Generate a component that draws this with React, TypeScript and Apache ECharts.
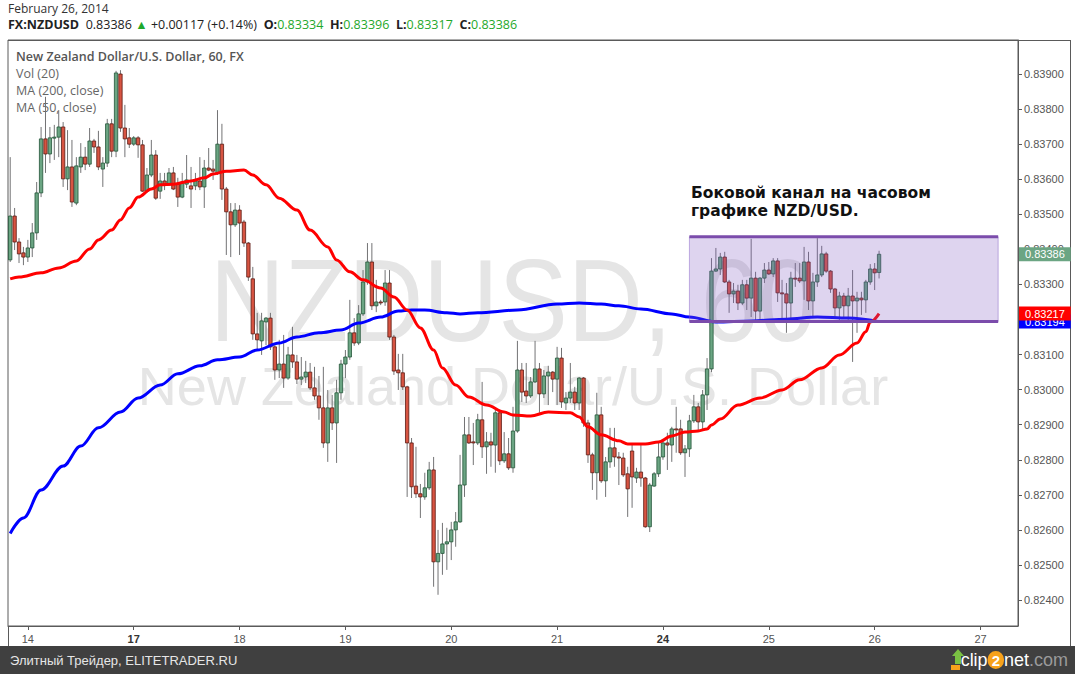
import React, { useEffect, useRef } from 'react';
import * as echarts from 'echarts';

// ---------- data ----------
const slotCount = 229; // hourly slots across the x axis (incl. empty future)
const dayTickIndex = [4, 28, 52, 76, 100, 124, 148, 172, 196, 220];
const dayTickLabel = ['14', '17', '18', '19', '20', '21', '24', '25', '26', '27'];
const boldDays = ['17', '24'];

const opens = [
  0.83370, 0.83495, 0.83421, 0.83390, 0.83378, 0.83404, 0.83447, 0.83561, 0.83715, 0.83672,
  0.83718, 0.83720, 0.83749, 0.83601, 0.83635, 0.83532, 0.83635, 0.83663, 0.83643, 0.83709,
  0.83692, 0.83629, 0.83646, 0.83758, 0.83680, 0.83900, 0.83746, 0.83718, 0.83700, 0.83718,
  0.83698, 0.83566, 0.83612, 0.83669, 0.83566, 0.83595, 0.83586, 0.83618, 0.83586, 0.83549,
  0.83586, 0.83581, 0.83581, 0.83595, 0.83578, 0.83632, 0.83629, 0.83618, 0.83700, 0.83572,
  0.83507, 0.83470, 0.83512, 0.83478, 0.83418, 0.83316, 0.83159, 0.83139, 0.83193, 0.83204,
  0.83122, 0.83056, 0.83073, 0.83033, 0.83099, 0.83079, 0.83030, 0.83036, 0.83050, 0.83005,
  0.82982, 0.82948, 0.82848, 0.82948, 0.82905, 0.82991, 0.83073, 0.83093, 0.83162, 0.83133,
  0.83216, 0.83307, 0.83364, 0.83239, 0.83250, 0.83250, 0.83304, 0.83150, 0.83056, 0.83048,
  0.83008, 0.82848, 0.82725, 0.82703, 0.82694, 0.82720, 0.82771, 0.82509, 0.82533, 0.82560,
  0.82566, 0.82600, 0.82623, 0.82728, 0.82871, 0.82851, 0.82848, 0.82914, 0.82837, 0.82851,
  0.82842, 0.82934, 0.82797, 0.82817, 0.82777, 0.82882, 0.83056, 0.82996, 0.82982, 0.83022,
  0.83059, 0.82988, 0.83039, 0.83050, 0.83030, 0.83090, 0.82962, 0.82976, 0.82993, 0.82962,
  0.83033, 0.82905, 0.82814, 0.82763, 0.82928, 0.82740, 0.82794, 0.82834, 0.82808, 0.82805,
  0.82760, 0.82825, 0.82748, 0.82765, 0.82748, 0.82609, 0.82725, 0.82760, 0.82808, 0.82848,
  0.82842, 0.82888, 0.82888, 0.82820, 0.82831, 0.82911, 0.82951, 0.82908, 0.82985, 0.83059,
  0.83338, 0.83344, 0.83378, 0.83307, 0.83273, 0.83281, 0.83247, 0.83299, 0.83261, 0.83318,
  0.83224, 0.83318, 0.83341, 0.83330, 0.83367, 0.83276, 0.83273, 0.83247, 0.83318, 0.83318,
  0.83310, 0.83364, 0.83253, 0.83307, 0.83327, 0.83387, 0.83338, 0.83287, 0.83233, 0.83267,
  0.83239, 0.83267, 0.83253, 0.83261, 0.83256, 0.83307, 0.83344, 0.83334,
];
const closes = [
  0.83495, 0.83421, 0.83387, 0.83378, 0.83404, 0.83447, 0.83561, 0.83715, 0.83672, 0.83718,
  0.83720, 0.83749, 0.83601, 0.83635, 0.83535, 0.83638, 0.83663, 0.83643, 0.83709, 0.83692,
  0.83635, 0.83646, 0.83758, 0.83680, 0.83903, 0.83746, 0.83715, 0.83700, 0.83718, 0.83698,
  0.83566, 0.83612, 0.83669, 0.83546, 0.83595, 0.83586, 0.83618, 0.83572, 0.83549, 0.83592,
  0.83598, 0.83572, 0.83595, 0.83578, 0.83632, 0.83626, 0.83623, 0.83700, 0.83572, 0.83507,
  0.83470, 0.83512, 0.83475, 0.83418, 0.83321, 0.83159, 0.83142, 0.83196, 0.83204, 0.83122,
  0.83056, 0.83073, 0.83033, 0.83099, 0.83079, 0.83030, 0.83036, 0.83050, 0.83005, 0.82982,
  0.82948, 0.82848, 0.82948, 0.82905, 0.82991, 0.83073, 0.83093, 0.83162, 0.83133, 0.83216,
  0.83307, 0.83364, 0.83239, 0.83250, 0.83249, 0.83304, 0.83150, 0.83053, 0.83048, 0.83008,
  0.82848, 0.82723, 0.82703, 0.82694, 0.82720, 0.82771, 0.82509, 0.82533, 0.82560, 0.82566,
  0.82600, 0.82623, 0.82728, 0.82871, 0.82848, 0.82848, 0.82914, 0.82837, 0.82851, 0.82842,
  0.82934, 0.82797, 0.82817, 0.82777, 0.82882, 0.83056, 0.82993, 0.82982, 0.83022, 0.83059,
  0.82988, 0.83039, 0.83050, 0.83030, 0.83090, 0.82965, 0.82976, 0.82993, 0.82962, 0.83033,
  0.82905, 0.82814, 0.82763, 0.82928, 0.82740, 0.82794, 0.82834, 0.82808, 0.82805, 0.82757,
  0.82717, 0.82751, 0.82765, 0.82748, 0.82609, 0.82728, 0.82760, 0.82808, 0.82848, 0.82842,
  0.82888, 0.82885, 0.82820, 0.82831, 0.82911, 0.82951, 0.82908, 0.82985, 0.83059, 0.83338,
  0.83344, 0.83378, 0.83307, 0.83273, 0.83281, 0.83247, 0.83299, 0.83261, 0.83318, 0.83224,
  0.83318, 0.83341, 0.83330, 0.83367, 0.83276, 0.83273, 0.83247, 0.83318, 0.83316, 0.83310,
  0.83364, 0.83253, 0.83307, 0.83327, 0.83387, 0.83338, 0.83287, 0.83233, 0.83267, 0.83239,
  0.83267, 0.83253, 0.83261, 0.83256, 0.83307, 0.83344, 0.83333, 0.83386,
];
const lows = [
  0.83364, 0.83398, 0.83361, 0.83355, 0.83364, 0.83378, 0.83427, 0.83549, 0.83618, 0.83646,
  0.83655, 0.83663, 0.83578, 0.83569, 0.83521, 0.83526, 0.83618, 0.83626, 0.83635, 0.83675,
  0.83626, 0.83578, 0.83635, 0.83663, 0.83663, 0.83735, 0.83663, 0.83689, 0.83695, 0.83661,
  0.83564, 0.83561, 0.83606, 0.83541, 0.83544, 0.83569, 0.83581, 0.83569, 0.83521, 0.83546,
  0.83575, 0.83518, 0.83569, 0.83569, 0.83518, 0.83623, 0.83598, 0.83612, 0.83541, 0.83384,
  0.83378, 0.83464, 0.83384, 0.83407, 0.83310, 0.83142, 0.83113, 0.83099, 0.83127, 0.83113,
  0.83028, 0.83033, 0.83005, 0.83028, 0.83062, 0.83016, 0.83013, 0.83019, 0.82999, 0.82971,
  0.82914, 0.82834, 0.82794, 0.82885, 0.82791, 0.82971, 0.83033, 0.83085, 0.83125, 0.83127,
  0.83210, 0.83299, 0.83227, 0.83221, 0.83241, 0.83239, 0.83142, 0.83042, 0.82999, 0.82999,
  0.82694, 0.82691, 0.82691, 0.82634, 0.82686, 0.82714, 0.82438, 0.82415, 0.82472, 0.82486,
  0.82514, 0.82552, 0.82620, 0.82694, 0.82845, 0.82785, 0.82842, 0.82805, 0.82760, 0.82780,
  0.82763, 0.82785, 0.82791, 0.82771, 0.82763, 0.82877, 0.82965, 0.82962, 0.82976, 0.83019,
  0.82934, 0.82976, 0.82956, 0.82993, 0.82956, 0.82948, 0.82942, 0.82962, 0.82942, 0.82942,
  0.82894, 0.82791, 0.82714, 0.82686, 0.82734, 0.82694, 0.82777, 0.82780, 0.82728, 0.82751,
  0.82637, 0.82663, 0.82734, 0.82723, 0.82606, 0.82594, 0.82723, 0.82751, 0.82800, 0.82771,
  0.82794, 0.82820, 0.82814, 0.82751, 0.82808, 0.82905, 0.82885, 0.82885, 0.82942, 0.83050,
  0.83336, 0.83327, 0.83304, 0.83219, 0.83247, 0.83227, 0.83241, 0.83227, 0.83207, 0.83199,
  0.83201, 0.83304, 0.83327, 0.83321, 0.83250, 0.83199, 0.83162, 0.83199, 0.83293, 0.83304,
  0.83256, 0.83227, 0.83207, 0.83293, 0.83321, 0.83333, 0.83276, 0.83204, 0.83199, 0.83204,
  0.83199, 0.83079, 0.83162, 0.83213, 0.83219, 0.83299, 0.83284, 0.83317,
];
const highs = [
  0.83663, 0.83518, 0.83432, 0.83407, 0.83427, 0.83475, 0.83592, 0.83749, 0.83835, 0.83749,
  0.83755, 0.83797, 0.83763, 0.83740, 0.83712, 0.83663, 0.83703, 0.83692, 0.83746, 0.83715,
  0.83738, 0.83663, 0.83772, 0.83772, 0.83909, 0.83911, 0.83812, 0.83746, 0.83723, 0.83723,
  0.83712, 0.83632, 0.83712, 0.83683, 0.83618, 0.83618, 0.83632, 0.83635, 0.83604, 0.83618,
  0.83669, 0.83635, 0.83618, 0.83663, 0.83655, 0.83689, 0.83655, 0.83797, 0.83758, 0.83578,
  0.83532, 0.83532, 0.83526, 0.83484, 0.83421, 0.83350, 0.83219, 0.83219, 0.83207, 0.83219,
  0.83133, 0.83142, 0.83156, 0.83122, 0.83179, 0.83099, 0.83093, 0.83082, 0.83076, 0.83065,
  0.83039, 0.83065, 0.82999, 0.82985, 0.83028, 0.83085, 0.83113, 0.83256, 0.83204, 0.83241,
  0.83341, 0.83418, 0.83418, 0.83313, 0.83256, 0.83341, 0.83341, 0.83156, 0.83102, 0.83102,
  0.83011, 0.82862, 0.82837, 0.82731, 0.82763, 0.82794, 0.82808, 0.82600, 0.82620, 0.82606,
  0.82623, 0.82651, 0.82814, 0.82922, 0.82922, 0.82905, 0.82931, 0.83022, 0.82879, 0.82877,
  0.82942, 0.82942, 0.82879, 0.82862, 0.82951, 0.83139, 0.83076, 0.83076, 0.83036, 0.83139,
  0.83076, 0.83056, 0.83068, 0.83053, 0.83122, 0.83119, 0.82993, 0.83076, 0.83008, 0.83036,
  0.83036, 0.82914, 0.82820, 0.82991, 0.82951, 0.82808, 0.82891, 0.82891, 0.82822, 0.82820,
  0.82780, 0.82848, 0.82777, 0.82842, 0.82751, 0.82734, 0.82765, 0.82848, 0.82851, 0.82877,
  0.82894, 0.82951, 0.82914, 0.82842, 0.82928, 0.82985, 0.82962, 0.82999, 0.83090, 0.83375,
  0.83404, 0.83390, 0.83393, 0.83313, 0.83304, 0.83299, 0.83313, 0.83313, 0.83430, 0.83336,
  0.83321, 0.83361, 0.83364, 0.83375, 0.83375, 0.83313, 0.83304, 0.83336, 0.83361, 0.83361,
  0.83407, 0.83393, 0.83333, 0.83432, 0.83410, 0.83393, 0.83341, 0.83290, 0.83279, 0.83276,
  0.83290, 0.83341, 0.83279, 0.83279, 0.83313, 0.83358, 0.83361, 0.83396,
];

// MA (50, close) — red at candle indices
const ma50Index = [0, 2, 7, 11, 15, 18, 20, 23, 25, 27, 29, 32, 34, 37, 41, 44, 46, 49, 53, 55,
  58, 61, 65, 68, 72, 74, 77, 80, 84, 87, 90, 93, 96, 98, 101, 104, 108, 112, 114, 118,
  122, 127, 129, 131, 134, 138, 140, 144, 147, 150, 153, 156, 158, 159, 161, 165, 170, 175, 179, 184,
  188, 192, 194, 195, 197];
const ma50Value = [0.83316, 0.83321, 0.83333, 0.83347, 0.83367, 0.83401, 0.83427, 0.83455, 0.83484, 0.83518,
  0.83549, 0.83572, 0.83584, 0.83586, 0.83595, 0.83604, 0.83615, 0.83623, 0.83626, 0.83612,
  0.83584, 0.83546, 0.83512, 0.83455, 0.83407, 0.83370, 0.83336, 0.83313, 0.83290, 0.83264,
  0.83227, 0.83176, 0.83113, 0.83062, 0.83013, 0.82979, 0.82956, 0.82936, 0.82928, 0.82925,
  0.82936, 0.82934, 0.82922, 0.82894, 0.82871, 0.82854, 0.82845, 0.82845, 0.82851, 0.82868,
  0.82879, 0.82882, 0.82888, 0.82899, 0.82916, 0.82956, 0.82976, 0.82999, 0.83028, 0.83062,
  0.83099, 0.83133, 0.83165, 0.83193, 0.83217];

// MA (200, close) — blue
const ma200Index = [0, 3, 7, 12, 16, 20, 25, 29, 34, 38, 43, 47, 52, 56, 61, 65, 70, 75, 79, 84,
  88, 91, 94, 99, 102, 106, 115, 124, 129, 134, 138, 143, 150, 154, 160, 168, 176, 183, 190, 197];
const ma200Value = [0.82590, 0.82634, 0.82714, 0.82782, 0.82839, 0.82891, 0.82936, 0.82976, 0.83013, 0.83045,
  0.83068, 0.83085, 0.83093, 0.83113, 0.83133, 0.83150, 0.83162, 0.83170, 0.83190, 0.83207,
  0.83224, 0.83227, 0.83227, 0.83219, 0.83216, 0.83219, 0.83227, 0.83244, 0.83247, 0.83244,
  0.83239, 0.83230, 0.83216, 0.83207, 0.83193, 0.83196, 0.83201, 0.83207, 0.83204, 0.83194];

// sideways channel drawn on the chart
const channelStartIndex = 154;
const channelEndIndex = 224;
const channelTop = 0.83436;
const channelBottom = 0.83194;

const yMin = 0.82326;
const yMax = 0.83997;

const FONT_UI = "'Open Sans', 'Noto Sans', sans-serif";
const FONT_AXIS = "'Liberation Sans', Arial, sans-serif";

export default function App() {
  const ref = useRef<HTMLDivElement>(null);

  useEffect(() => {
    if (!ref.current) return;
    const chart = echarts.init(ref.current, undefined, { renderer: 'svg' });

    const categories = Array.from({ length: slotCount }, (_, i) => String(i));
    const candleData = opens.map((o, i) => [i, o, closes[i], lows[i], highs[i]]);
    const ma50Data = ma50Index.map((x, i) => [x, ma50Value[i]]);
    const ma200Data = ma200Index.map((x, i) => [x, ma200Value[i]]);
    const lastClose = closes[closes.length - 1];
    const lastMa50 = ma50Value[ma50Value.length - 1];
    const lastMa200 = ma200Value[ma200Value.length - 1];
    const labelOf: Record<number, string> = {};
    dayTickIndex.forEach((idx, k) => (labelOf[idx] = dayTickLabel[k]));

    const priceTag = (bg: string) => ({
      silent: true,
      symbol: 'none',
      precision: 5,
      lineStyle: { color: 'rgba(0,0,0,0)', width: 1, type: 'solid' },
      label: {
        show: true,
        position: 'end',
        distance: 1,
        formatter: (p: any) => Number(p.value).toFixed(5),
        backgroundColor: bg,
        color: '#ffffff',
        fontFamily: FONT_AXIS,
        fontSize: 11,
        padding: [2, 6, 1, 6],
      },
      emphasis: { disabled: true },
    });

    const option: any = {
      animation: false,
      backgroundColor: '#ffffff',
      grid: {
        left: 8,
        top: 40,
        width: 1010,
        height: 586,
        show: true,
        borderColor: '#5a5a5a',
        borderWidth: 1,
        backgroundColor: 'transparent',
      },
      xAxis: {
        type: 'category',
        data: categories,
        boundaryGap: true,
        axisLine: { show: true, lineStyle: { color: '#5a5a5a' } },
        axisTick: {
          show: true,
          alignWithLabel: true,
          length: 4,
          interval: (idx: number) => labelOf[idx] !== undefined,
          lineStyle: { color: '#5a5a5a' },
        },
        axisLabel: {
          interval: (idx: number) => labelOf[idx] !== undefined,
          formatter: (_v: string, idx: number) => {
            const t = labelOf[idx];
            if (t === undefined) return '';
            return boldDays.includes(t) ? `{b|${t}}` : `{n|${t}}`;
          },
          margin: 7,
          rich: {
            n: { color: '#555555', fontSize: 11, fontFamily: FONT_AXIS },
            b: { color: '#333333', fontSize: 11, fontFamily: FONT_AXIS, fontWeight: 'bold' },
          },
        },
        splitLine: { show: false },
      },
      yAxis: {
        type: 'value',
        position: 'right',
        min: yMin,
        max: yMax,
        splitNumber: 16,
        axisLine: { show: true, lineStyle: { color: '#5a5a5a' } },
        axisTick: { show: true, length: 4, lineStyle: { color: '#5a5a5a' } },
        axisLabel: {
          showMinLabel: false,
          showMaxLabel: false,
          margin: 6,
          color: '#555555',
          fontSize: 11,
          fontFamily: FONT_AXIS,
          formatter: (v: number) => v.toFixed(5),
        },
        splitLine: { show: false },
      },
      series: [
        {
          type: 'custom',
          name: 'NZDUSD',
          z: 2,
          clip: false,
          data: candleData,
          encode: { x: 0, y: [1, 2, 3, 4] },
          renderItem: (_params: any, api: any) => {
            const i = api.value(0);
            const o = api.value(1);
            const c = api.value(2);
            const l = api.value(3);
            const h = api.value(4);
            const pO = api.coord([i, o]);
            const pC = api.coord([i, c]);
            const pL = api.coord([i, l]);
            const pH = api.coord([i, h]);
            const x = pO[0];
            const up = c >= o;
            const bw = api.size([1, 0])[0] * 0.76;
            const top = Math.min(pO[1], pC[1]);
            const hgt = Math.max(Math.abs(pO[1] - pC[1]), 1);
            return {
              type: 'group',
              children: [
                {
                  type: 'line',
                  shape: { x1: x, y1: pH[1], x2: x, y2: pL[1] },
                  style: { stroke: '#737375', lineWidth: 1 },
                },
                {
                  type: 'rect',
                  shape: { x: x - bw / 2, y: top, width: bw, height: hgt },
                  style: {
                    fill: up ? '#6ba583' : '#d75442',
                    stroke: up ? '#225437' : '#5b1a13',
                    lineWidth: 0.8,
                  },
                },
              ],
            };
          },
          markLine: { ...priceTag('#6ba583'), data: [{ yAxis: lastClose }] },
        },
        {
          type: 'line',
          name: 'MA (200, close)',
          z: 3,
          clip: false,
          data: ma200Data,
          smooth: 0.35,
          smoothMonotone: 'x',
          showSymbol: false,
          lineStyle: { color: '#0000ff', width: 3 },
          markLine: { ...priceTag('#0000ff'), data: [{ yAxis: lastMa200 }] },
        },
        {
          type: 'line',
          name: 'MA (50, close)',
          z: 4,
          clip: false,
          data: ma50Data,
          smooth: 0.35,
          smoothMonotone: 'x',
          showSymbol: false,
          lineStyle: { color: '#ff0000', width: 3 },
          markLine: { ...priceTag('#ff0000'), data: [{ yAxis: lastMa50 }] },
        },
        {
          type: 'custom',
          name: 'channel',
          z: 6,
          data: [[channelStartIndex, channelTop, channelEndIndex, channelBottom]],
          renderItem: (_params: any, api: any) => {
            const p1 = api.coord([api.value(0), api.value(1)]);
            const p2 = api.coord([api.value(2), api.value(3)]);
            return {
              type: 'group',
              children: [
                {
                  type: 'rect',
                  shape: { x: p1[0], y: p1[1], width: p2[0] - p1[0], height: p2[1] - p1[1] },
                  style: { fill: 'rgba(126, 87, 194, 0.26)', stroke: 'rgba(126, 87, 194, 0.45)', lineWidth: 1 },
                },
                {
                  type: 'line',
                  shape: { x1: p1[0], y1: p1[1], x2: p2[0], y2: p1[1] },
                  style: { stroke: '#7b4cab', lineWidth: 3 },
                },
                {
                  type: 'line',
                  shape: { x1: p1[0], y1: p2[1], x2: p2[0], y2: p2[1] },
                  style: { stroke: '#7b4cab', lineWidth: 3 },
                },
              ],
            };
          },
        },
      ],
      graphic: [
        // watermark
        {
          type: 'text',
          x: 513,
          y: 300,
          scaleY: 1.12,
          silent: true,
          style: {
            text: 'NZDUSD, 60',
            fill: '#e5e5e5',
            fontSize: 104,
            fontFamily: FONT_AXIS,
            align: 'center',
            verticalAlign: 'middle',
          },
        },
        {
          type: 'text',
          x: 513,
          y: 386,
          silent: true,
          style: {
            text: 'New Zealand Dollar/U.S. Dollar',
            fill: '#e5e5e5',
            fontSize: 54,
            fontFamily: FONT_AXIS,
            align: 'center',
            verticalAlign: 'middle',
          },
        },
        // header
        {
          type: 'text',
          x: 8,
          y: 8,
          style: {
            text: 'February 26, 2014',
            fill: '#333333',
            fontSize: 12,
            fontFamily: FONT_UI,
            verticalAlign: 'middle',
          },
        },
        {
          type: 'text',
          x: 8,
          y: 24,
          style: {
            text:
              '{b|FX:NZDUSD}  {n|0.83386} {g|▲} {n|+0.00117 (+0.14%)}  {b|O:}{g|0.83334}  {b|H:}{g|0.83396}  {b|L:}{g|0.83317}  {b|C:}{g|0.83386}',
            verticalAlign: 'middle',
            rich: {
              b: { fill: '#222222', fontSize: 12.5, fontWeight: 'bold', fontFamily: FONT_UI },
              n: { fill: '#222222', fontSize: 12.5, fontFamily: FONT_UI },
              g: { fill: '#1fa82b', fontSize: 12.5, fontFamily: FONT_UI },
            },
          },
        },
        {
          type: 'line',
          shape: { x1: 8, y1: 40.5, x2: 1071, y2: 40.5 },
          style: { stroke: '#5a5a5a', lineWidth: 1 },
        },
        {
          type: 'line',
          shape: { x1: 8.5, y1: 626, x2: 8.5, y2: 646 },
          style: { stroke: '#5a5a5a', lineWidth: 1 },
        },
        {
          type: 'line',
          shape: { x1: 1070.5, y1: 40, x2: 1070.5, y2: 646 },
          style: { stroke: '#5a5a5a', lineWidth: 1 },
        },
        // legend
        {
          type: 'text',
          x: 16,
          y: 56,
          style: {
            text: 'New Zealand Dollar/U.S. Dollar, 60, FX',
            fill: '#555555',
            fontSize: 12.5,
            fontWeight: 600,
            fontFamily: FONT_UI,
            verticalAlign: 'middle',
          },
        },
        {
          type: 'text',
          x: 16,
          y: 73,
          style: { text: 'Vol (20)', fill: '#666666', fontSize: 12.5, fontFamily: FONT_UI, verticalAlign: 'middle' },
        },
        {
          type: 'text',
          x: 16,
          y: 90,
          style: { text: 'MA (200, close)', fill: '#666666', fontSize: 12.5, fontFamily: FONT_UI, verticalAlign: 'middle' },
        },
        {
          type: 'text',
          x: 16,
          y: 107,
          style: { text: 'MA (50, close)', fill: '#666666', fontSize: 12.5, fontFamily: FONT_UI, verticalAlign: 'middle' },
        },
        // annotation
        {
          type: 'text',
          x: 691,
          y: 184,
          z: 10,
          style: {
            text: 'Боковой канал на часовом\nграфике NZD/USD.',
            fill: '#111111',
            fontSize: 15.5,
            fontWeight: 'bold',
            fontFamily: "'DejaVu Sans', Verdana, sans-serif",
            lineHeight: 18,
            verticalAlign: 'top',
          },
        },
        // bottom bar
        {
          type: 'rect',
          shape: { x: 0, y: 646, width: 1075, height: 28 },
          style: { fill: '#404040' },
        },
        {
          type: 'text',
          x: 10,
          y: 660,
          style: {
            text: 'Элитный Трейдер, ELITETRADER.RU',
            fill: '#e6e6e6',
            fontSize: 13,
            fontFamily: "'Liberation Sans Narrow', 'Liberation Sans', sans-serif",
            verticalAlign: 'middle',
          },
        },
        {
          type: 'polygon',
          shape: { points: [[958, 649], [964, 656], [961, 656], [961, 664], [955, 664], [955, 656], [952, 656]] },
          style: { fill: '#7ac143' },
        },
        {
          type: 'rect',
          shape: { x: 951, y: 665, width: 9, height: 5 },
          style: { fill: '#f7a21b' },
        },
        {
          type: 'text',
          x: 1068,
          y: 660,
          style: {
            text: '{w|clip}{o|2}{w|net}{c|.com}',
            align: 'right',
            verticalAlign: 'middle',
            rich: {
              w: { fill: '#ffffff', fontSize: 18, fontFamily: "'Liberation Sans Narrow', 'Liberation Sans', sans-serif" },
              o: {
                fill: '#ffffff',
                fontSize: 15,
                fontWeight: 'bold',
                backgroundColor: '#f7a21b',
                borderRadius: 9,
                padding: [2, 4, 1, 4],
                fontFamily: "'Liberation Sans', sans-serif",
              },
              c: { fill: '#9a9a9a', fontSize: 18, fontFamily: "'Liberation Sans Narrow', 'Liberation Sans', sans-serif" },
            },
          },
        },
      ],
    };

    chart.setOption(option);
    return () => chart.dispose();
  }, []);

  return (
    <div
      ref={ref}
      style={{ position: 'fixed', left: 0, top: 0, width: 1075, height: 674, background: '#fff' }}
    />
  );
}
